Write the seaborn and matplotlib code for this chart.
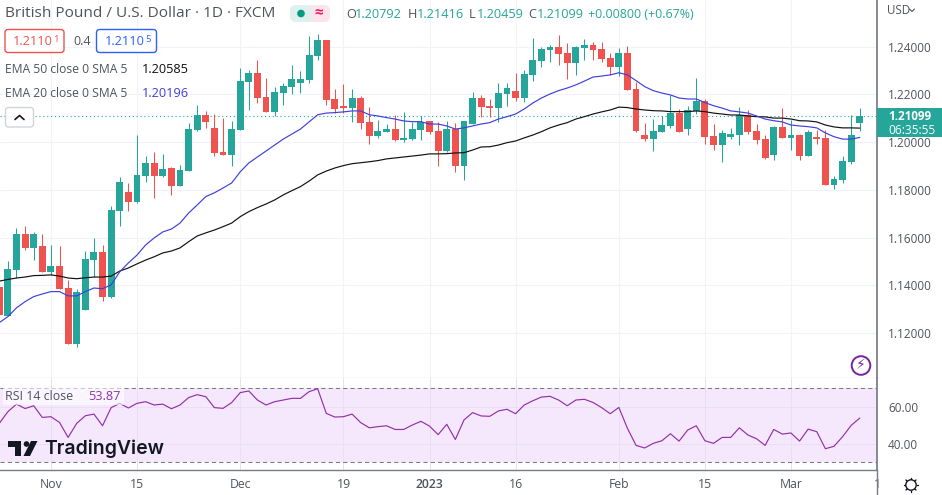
import matplotlib
matplotlib.use("Agg")
import matplotlib.pyplot as plt
from matplotlib.patches import FancyBboxPatch, Polygon, Rectangle, Circle
import pandas as pd
import seaborn as sns

# daily candles
opens = [1.1393,1.1272,1.1465,1.1615,1.1557,1.1565,1.1456,1.1481,1.1389,1.1154,
         1.1297,1.1506,1.1540,1.1351,1.1712,1.1791,1.1749,1.1858,1.1913,1.1858,
         1.1892,1.1817,1.1879,1.2051,1.2114,1.2060,1.1959,1.1946,1.2051,1.2252,
         1.2290,1.2189,1.2127,1.2206,1.2231,1.2248,1.2261,1.2361,1.2428,1.2181,
         1.2152,1.2143,1.2185,1.2085,1.2026,1.2043,1.2055,1.2009,1.2013,1.2051,
         1.2089,1.2047,1.1963,1.2055,1.1900,1.2076,1.2185,1.2152,1.2143,1.2202,
         1.2215,1.2185,1.2282,1.2340,1.2386,1.2399,1.2374,1.2332,1.2395,1.2407,
         1.2391,1.2353,1.2315,1.2374,1.2223,1.2030,1.2013,1.2043,1.2068,1.2122,
         1.2055,1.2131,1.2173,1.2026,1.1988,1.2022,1.2030,1.2114,1.2047,1.2013,
         1.1946,1.2064,1.2018,1.2030,1.1942,1.2022,1.2018,1.1821,1.1842,1.1917,1.20792]
closes = [1.1276,1.1469,1.1615,1.1557,1.1615,1.1456,1.1481,1.1385,1.1154,1.1372,
          1.1511,1.1540,1.1351,1.1716,1.1833,1.1749,1.1863,1.1913,1.1858,1.1888,
          1.1817,1.1884,1.2055,1.2114,1.2085,1.1955,1.1946,1.2055,1.2256,1.2290,
          1.2185,1.2127,1.2210,1.2236,1.2265,1.2265,1.2365,1.2428,1.2177,1.2139,
          1.2143,1.2185,1.2080,1.2026,1.2047,1.2055,1.2009,1.2018,1.2055,1.2085,
          1.2043,1.1963,1.2055,1.1900,1.2089,1.2185,1.2147,1.2143,1.2206,1.2227,
          1.2185,1.2286,1.2344,1.2391,1.2399,1.2370,1.2332,1.2399,1.2407,1.2386,
          1.2349,1.2315,1.2374,1.2219,1.2047,1.2013,1.2047,1.2072,1.2122,1.2043,
          1.2135,1.2173,1.2022,1.1988,1.2039,1.2034,1.2114,1.2043,1.2009,1.1934,
          1.2064,1.2018,1.2030,1.1942,1.2043,1.2013,1.1821,1.1846,1.1921,1.2030,1.21099]
highs = [1.1444,1.1502,1.1641,1.1649,1.1624,1.1615,1.1569,1.1565,1.1423,1.1385,
         1.1544,1.1599,1.1569,1.1733,1.1854,1.1829,1.2030,1.1942,1.1959,1.1951,
         1.1896,1.1904,1.2080,1.2156,1.2131,1.2118,1.2101,1.2089,1.2311,1.2302,
         1.2344,1.2269,1.2231,1.2248,1.2323,1.2298,1.2445,1.2453,1.2428,1.2223,
         1.2244,1.2223,1.2194,1.2147,1.2093,1.2076,1.2114,1.2127,1.2085,1.2110,
         1.2089,1.2085,1.2089,1.2080,1.2089,1.2210,1.2198,1.2181,1.2248,1.2248,
         1.2290,1.2302,1.2437,1.2399,1.2407,1.2449,1.2416,1.2403,1.2432,1.2420,
         1.2420,1.2374,1.2395,1.2403,1.2252,1.2080,1.2097,1.2110,1.2198,1.2139,
         1.2152,1.2269,1.2181,1.2076,1.2051,1.2060,1.2147,1.2135,1.2076,1.2030,
         1.2068,1.2143,1.2093,1.2034,1.2051,1.2051,1.2051,1.1858,1.1942,1.2114,1.21416]
lows = [1.1268,1.1270,1.1431,1.1548,1.1506,1.1456,1.1444,1.1385,1.1154,1.1142,
        1.1297,1.1435,1.1335,1.1347,1.1649,1.1712,1.1745,1.1833,1.1766,1.1854,
        1.1779,1.1817,1.1879,1.2047,1.2060,1.1942,1.1946,1.1900,1.2051,1.2135,
        1.2164,1.2127,1.2110,1.2156,1.2202,1.2206,1.2248,1.2344,1.2156,1.2122,
        1.2122,1.2085,1.2055,1.1992,1.2018,1.2043,1.2005,1.2001,1.2009,1.2009,
        1.2034,1.1900,1.1959,1.1875,1.1842,1.2076,1.2106,1.2106,1.2085,1.2152,
        1.2173,1.2168,1.2256,1.2315,1.2336,1.2323,1.2265,1.2282,1.2344,1.2344,
        1.2336,1.2282,1.2277,1.2219,1.2043,1.2005,1.1963,1.2043,1.2060,1.2043,
        1.2030,1.2118,1.1992,1.1967,1.1917,1.2013,1.1988,1.2034,1.1992,1.1930,
        1.1925,1.2018,1.1967,1.1925,1.1942,1.1992,1.1821,1.1804,1.1829,1.1909,1.20459]
ema50 = [1.1418,1.1425,1.1431,1.1435,1.1441,1.1442,1.1444,1.1439,1.1431,1.1428,
         1.1432,1.1435,1.1435,1.1439,1.1460,1.1473,1.1490,1.1506,1.1520,1.1536,
         1.1544,1.1557,1.1583,1.1607,1.1620,1.1632,1.1646,1.1661,1.1688,1.1709,
         1.1726,1.1741,1.1758,1.1779,1.1797,1.1814,1.1837,1.1863,1.1879,1.1892,
         1.1902,1.1910,1.1914,1.1918,1.1923,1.1930,1.1934,1.1938,1.1942,1.1946,
         1.1951,1.1951,1.1952,1.1955,1.1956,1.1967,1.1980,1.1981,1.1988,1.1998,
         1.2005,1.2018,1.2030,1.2044,1.2060,1.2072,1.2082,1.2097,1.2107,1.2118,
         1.2127,1.2135,1.2147,1.2145,1.2139,1.2135,1.2132,1.2131,1.2128,1.2128,
         1.2128,1.2131,1.2128,1.2122,1.2118,1.2114,1.2114,1.2110,1.2107,1.2106,
         1.2101,1.2101,1.2097,1.2090,1.2089,1.2085,1.2072,1.2064,1.2060,1.2060,1.2059]
ema20 = [1.1244,1.1269,1.1306,1.1332,1.1353,1.1364,1.1374,1.1374,1.1356,1.1356,
         1.1374,1.1389,1.1386,1.1402,1.1457,1.1494,1.1527,1.1569,1.1599,1.1624,
         1.1636,1.1661,1.1703,1.1737,1.1772,1.1788,1.1808,1.1829,1.1876,1.1913,
         1.1938,1.1963,1.1988,1.2013,1.2034,1.2055,1.2085,1.2115,1.2122,1.2124,
         1.2127,1.2131,1.2131,1.2115,1.2110,1.2103,1.2097,1.2089,1.2086,1.2086,
         1.2076,1.2076,1.2068,1.2055,1.2060,1.2068,1.2076,1.2082,1.2097,1.2107,
         1.2118,1.2139,1.2164,1.2185,1.2202,1.2216,1.2227,1.2240,1.2256,1.2273,
         1.2277,1.2282,1.2291,1.2282,1.2258,1.2233,1.2216,1.2206,1.2198,1.2185,
         1.2181,1.2181,1.2166,1.2153,1.2143,1.2131,1.2127,1.2122,1.2110,1.2097,
         1.2090,1.2085,1.2072,1.2068,1.2065,1.2060,1.2039,1.2023,1.2013,1.2013,1.2020]
rsi = [51,57.3,61.4,59,60.5,54.2,54.6,51.5,43.4,51,
       55.1,56,49.7,59.5,61.8,59.3,61.8,62.7,60.9,61.4,
       58.9,60.9,64.9,66.5,65.4,59.5,59.1,62.2,67.6,68.5,
       63.6,60.9,62.7,63.6,64.5,64.5,68.1,69.7,56.4,54.4,
       54.6,56,51.4,48.6,49.2,49.7,47.7,47.7,50.1,52.1,
       49.5,44.9,50.5,42.3,52.8,56.8,55,54.8,57.7,58.6,
       56.2,60.9,63.2,65.2,65.6,63.6,60.5,63.6,64,62.3,
       59.5,56.2,59.6,48.3,39.1,37.7,40.2,41.6,45.4,41.4,
       47.4,49.7,41.6,40.2,43.4,43.4,48.6,44.7,42.7,39.1,
       47.7,45.2,45.8,41.4,47.9,46.5,37.3,38.6,43.8,49.9,53.87]

first_bar = -6
date_ticks = [0, 10, 22, 34, 44, 54, 66, 76, 86, 96]
date_labels = ["Nov", "15", "Dec", "19", "2023", "16", "Feb", "15", "Mar", "1"]
price_ticks = [1.12, 1.14, 1.16, 1.18, 1.20, 1.22, 1.24]
rsi_ticks = [40, 60]
last_price = 1.21099

TEAL = "#26a69a"
RED = "#ef5350"
BLUE = "#3f3fdc"
PURPLE = "#9331a8"
GRID = "#f0f3fa"
TXT = "#50535e"
BORDER = "#787b86"

W, H = 942, 495
sns.set_theme(style="white")
plt.rcParams["font.family"] = ["Open Sans", "DejaVu Sans"]

df = pd.DataFrame({"open": opens, "high": highs, "low": lows, "close": closes,
                   "ema50": ema50, "ema20": ema20, "rsi": rsi})
df["bar"] = range(first_bar, first_bar + len(df))
df["up"] = df["close"] >= df["open"]
df["colour"] = df["up"].map({True: TEAL, False: RED})

fig = plt.figure(figsize=(W / 100, H / 100), dpi=100, facecolor="white")


def pane(top, bottom):
    return fig.add_axes([0, 1 - bottom / H, 877 / W, (bottom - top) / H])


ax = pane(0, 378)
ax2 = pane(378, 470)
xlim = (-5.916, 95.82)

# price pane
for b, c in zip(df["bar"], df["colour"]):
    row = df[df["bar"] == b].iloc[0]
    ax.vlines(b, row["low"], row["high"], color=c, lw=0.75, zorder=3)
    ax.bar(b, abs(row["close"] - row["open"]), bottom=min(row["open"], row["close"]),
           width=0.8, color=c, lw=0, zorder=3)
sns.lineplot(data=df, x="bar", y="ema50", ax=ax, color="#111111", lw=0.85, zorder=4)
sns.lineplot(data=df, x="bar", y="ema20", ax=ax, color=BLUE, lw=0.85, zorder=4)
ax.axhline(last_price, color=TEAL, lw=0.8, ls=(0, (1, 2.5)), zorder=2)
ax.set_xlim(*xlim)
ax.set_ylim(1.1012, 1.25958)
ax.set_yticks(price_ticks)
ax.set_xticks(date_ticks)
ax.set_xticklabels([])
ax.set_xlabel("")
ax.set_ylabel("")
ax.yaxis.tick_right()
ax.set_yticklabels(["%.5f" % p for p in price_ticks], fontsize=8.5, color=TXT)
ax.tick_params(axis="both", length=0, pad=8)
ax.grid(True, color=GRID, lw=0.75)
ax.set_axisbelow(True)

# rsi pane
ax2.axhspan(30, 70, color="#f5e8fd", lw=0, zorder=0)
ax2.axhline(70, color=BORDER, lw=0.75, ls=(0, (4, 3)), zorder=1)
ax2.axhline(30, color=BORDER, lw=0.75, ls=(0, (4, 3)), zorder=1)
sns.lineplot(data=df, x="bar", y="rsi", ax=ax2, color=PURPLE, lw=0.85, zorder=3)
ax2.set_xlim(*xlim)
ax2.set_ylim(25.8, 75.5)
ax2.set_yticks(rsi_ticks)
ax2.set_xticks(date_ticks)
ax2.set_xticklabels(date_labels, fontsize=8.8, color=TXT)
ax2.get_xticklabels()[4].set_fontweight("semibold")
ax2.set_xlabel("")
ax2.set_ylabel("")
ax2.yaxis.tick_right()
ax2.set_yticklabels(["%.2f" % r for r in rsi_ticks], fontsize=8.5, color=TXT)
ax2.tick_params(axis="y", length=0, pad=8)
ax2.tick_params(axis="x", length=0, pad=6)
ax2.grid(True, color="#e9def3", lw=0.7, zorder=1)
ax2.set_axisbelow(True)

for a in (ax, ax2):
    for s in a.spines.values():
        s.set_visible(False)
ax.spines["bottom"].set_visible(True)
ax.spines["bottom"].set_color("#e0e3eb")
ax.spines["bottom"].set_linewidth(1)
ax.spines["right"].set_visible(True)
ax.spines["right"].set_color(BORDER)
ax2.spines["right"].set_visible(True)
ax2.spines["right"].set_color(BORDER)
ax2.spines["bottom"].set_visible(True)
ax2.spines["bottom"].set_color(BORDER)
ax2.spines["bottom"].set_linewidth(1)

# overlay in pixel coordinates for the header, legend and price tag
ov = fig.add_axes([0, 0, 1, 1], facecolor="none")
ov.set_xlim(0, W)
ov.set_ylim(H, 0)
ov.axis("off")


def label(x, y, s, color=TXT, size=9.2, **kw):
    kw.setdefault("va", "center")
    ov.text(x, y, s, color=color, fontsize=size, **kw)


def box(x0, y0, x1, y1, edge, face="white", lw=1.0, r=3):
    ov.add_patch(FancyBboxPatch((x0 + r, y0 + r), x1 - x0 - 2 * r, y1 - y0 - 2 * r,
                                boxstyle="round,pad=%d" % r, ec=edge, fc=face, lw=lw))


label(5, 13.5, "British Pound / U.S. Dollar · 1D · FXCM", size=11.1)

# status pill
box(290, 5, 311, 22, "none", "#def1ef", 0, 6)
box(308, 5, 330, 22, "none", "#fde3ea", 0, 6)
ov.add_patch(Rectangle((303, 5), 8, 17, fc="#def1ef", lw=0))
ov.add_patch(Circle((301, 13.5), 3.8, fc="#089981", lw=0))
label(319, 13.5, "≈", "#e91e63", 11, ha="center", fontweight="bold")

# ohlc read-out
for x, s, c, sz in [(346, "O", TXT, 9.2), (355, "1.20792", TEAL, 9.2), (408, "H", TXT, 9.2),
                    (417, "1.21416", TEAL, 9.2), (469, "L", TXT, 9.2), (477, "1.20459", TEAL, 9.2),
                    (528, "C", TXT, 9.2), (537, "1.21099", TEAL, 9.2),
                    (588, "+0.00800 (+0.67%)", TEAL, 8.95)]:
    label(x, 14.5, s, c, sz)

# indicator legend
box(5, 29.5, 64, 52.5, RED)
label(13, 41.5, "1.2110", RED, 9.2)
label(53, 39.5, "1", RED, 6.8)
label(73, 41.5, "0.4", TXT, 9)
box(96.5, 29.5, 156.5, 52.5, "#2962ff")
label(105, 41.5, "1.2110", "#2962ff", 9.2)
label(145, 39.5, "5", "#2962ff", 6.8)
label(5, 69.5, "EMA 50 close 0 SMA 5", TXT, 8.75)
label(142, 69.5, "1.20585", "#111111", 9.2)
label(5, 93.5, "EMA 20 close 0 SMA 5", TXT, 8.75)
label(142, 93.5, "1.20196", BLUE, 9.2)
box(5.5, 107.5, 33.5, 127, "#d1d4dc")
ov.plot([15, 19.5, 24], [119.5, 115.5, 119.5], color="#131722", lw=1.2)

# rsi legend
ov.add_patch(Rectangle((3, 388), 121, 17, fc="white", alpha=0.6, lw=0))
label(5, 396, "RSI 14 close", TXT, 8.9)
label(88, 396, "53.87", PURPLE, 9.2)

# last price tag and axis bits
ov.add_patch(Rectangle((877, 108), 65, 29, fc=TEAL, lw=0))
label(888, 116, "1.21099", "white", 8.4, fontweight="bold")
label(888, 130, "06:35:55", "white", 8.6)
label(887, 10, "USD", TXT, 8.4)
ov.plot([909.5, 912, 914.5], [9, 11.5, 9], color=TXT, lw=0.8)

# replay icon
ov.add_patch(Circle((861, 365.5), 9.3, fc="white", ec="#7b1fa2", lw=1.4))
label(861, 365.5, "⚡", "#7b1fa2", 10, ha="center", family="DejaVu Sans")

# settings icon
ov.add_patch(Circle((911, 485), 5.2, fc="white", ec="#131722", lw=1))
for dx, dy in [(7, 0), (-7, 0), (0, 7), (0, -7), (5, 5), (-5, 5), (5, -5), (-5, -5)]:
    ov.plot([911 + dx * 0.8, 911 + dx], [485 + dy * 0.8, 485 + dy], color="#131722", lw=1)
ov.plot([877, 877], [470, 495], color=BORDER, lw=1)

# watermark
ov.add_patch(Polygon([(8, 441), (21, 441), (21, 456), (15, 456), (15, 447), (8, 447)], fc="#131722", lw=0))
ov.add_patch(Circle((26.5, 444), 2.8, fc="#131722", lw=0))
ov.add_patch(Polygon([(31, 441), (37.5, 441), (30, 456), (23.5, 456)], fc="#131722", lw=0))
ov.text(44, 448.5, "TradingView", color="#131722", fontsize=14, fontweight="semibold", va="center",
        family="Inter")

fig.savefig("out.png", dpi=100)
